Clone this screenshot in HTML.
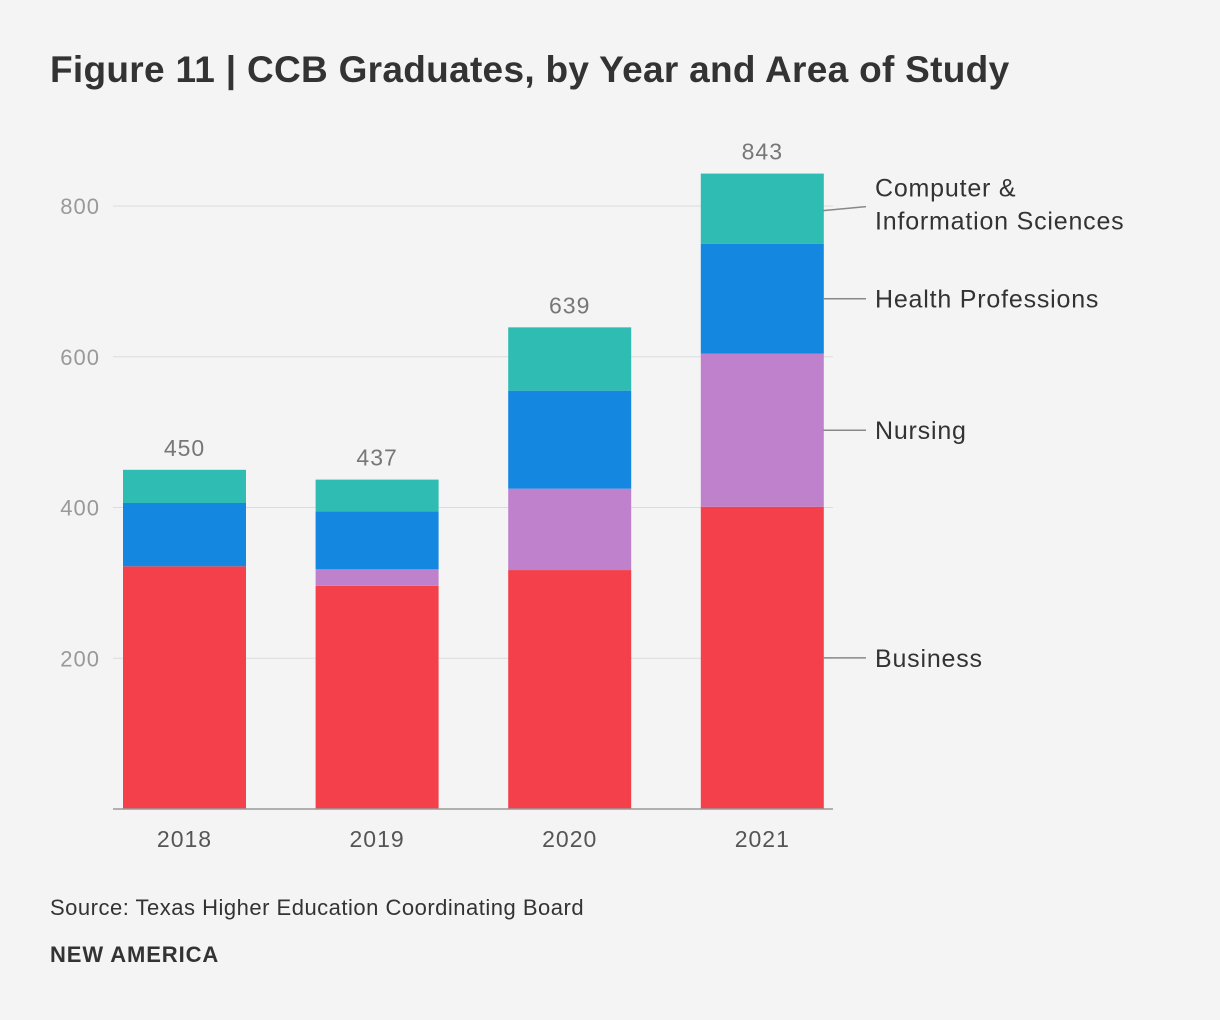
<!DOCTYPE html>
<html><head><meta charset="utf-8"><style>
html,body{margin:0;padding:0;background:#f4f4f4;}
body{width:1220px;height:1020px;position:relative;font-family:"Liberation Sans",sans-serif;overflow:hidden}
#title{position:absolute;left:50px;top:49px;font-size:37px;font-weight:bold;color:#333;letter-spacing:0.3px;margin:0}
#source{position:absolute;left:50px;top:895px;font-size:22px;color:#333;letter-spacing:0.5px}
#brand{position:absolute;left:50px;top:942px;font-size:22px;font-weight:bold;color:#333;letter-spacing:0.9px}
svg{position:absolute;left:0;top:0}
</style></head><body>
<h1 id="title">Figure 11 | CCB Graduates, by Year and Area of Study</h1>
<svg id="chart" width="1220" height="1020"></svg>
<div id="source">Source: Texas Higher Education Coordinating Board</div>
<div id="brand">NEW AMERICA</div>
<script>
const years = ["2018","2019","2020","2021"];
const business = [322,296,317,401];
const nursing = [0,22,108,203];
const health = [84,77,130,146];
const cis = [44,42,84,93];
const totals = [450,437,639,843];
const yTicks = [200,400,600,800];
const seriesNames = ["Business","Nursing","Health Professions","Computer & Information Sciences"];

const NS="http://www.w3.org/2000/svg";
const svg=document.getElementById('chart');
const y0=809, pxPer=(809-206)/800;
const y=v=>y0-v*pxPer;
const x=i=>123+i*192.6;
const bw=123;
const FF='Liberation Sans, sans-serif';
function el(t,a){const e=document.createElementNS(NS,t);for(const k in a)e.setAttribute(k,a[k]);svg.appendChild(e);return e;}
yTicks.forEach(t=>{
  const g=el('line',{x1:113,x2:833,y1:y(t),y2:y(t),stroke:'#dcdcdc','stroke-width':1});
  
  
  const tx=el('text',{x:100,y:y(t)+8,'text-anchor':'end','font-size':22,fill:'#999','font-family':FF,'letter-spacing':1});
  tx.textContent=t;
  
  
});
const series=[business,nursing,health,cis];
const colors=["#f3404a","#c081cc","#1487e0","#2fbcb2"];
const keys=["business","nursing","health","cis"];
years.forEach((yr,i)=>{
  let base=0;
  series.forEach((s,k)=>{
    const r=el('rect',{x:x(i),y:y(base+s[i]),width:bw,height:s[i]*pxPer,fill:colors[k]});
    
    
    base+=s[i];
  });
  const tl=el('text',{x:x(i)+bw/2,y:y(totals[i])-14,'text-anchor':'middle','font-size':23,fill:'#777','font-family':FF,'letter-spacing':1});
  tl.textContent=totals[i];
  
  
  const xl=el('text',{x:x(i)+bw/2,y:847,'text-anchor':'middle','font-size':23,fill:'#555','font-family':FF,'letter-spacing':1});
  xl.textContent=yr;
  
  
});
const ax=el('line',{x1:113,x2:833,y1:y0,y2:y0,stroke:'#999','stroke-width':1.5});


const li=3;
const mids=[];let b=0;
series.forEach((s,k)=>{mids.push(y(b+s[li]/2));b+=s[li];});
const lineEnd=[mids[0],mids[1],mids[2],mids[3]-2];
series.forEach((s,k)=>{
  const l=el('line',{x1:823,y1:k===3?mids[k]+2:mids[k],x2:866,y2:lineEnd[k],stroke:'#888','stroke-width':1.5});
  
  
  const t=el('text',{x:875,y:lineEnd[k]+9,'font-size':25,fill:'#333','font-family':FF,'letter-spacing':0.8});
  
  
  if(k===3){
    t.setAttribute('y',lineEnd[k]-10);
    const a=document.createElementNS(NS,'tspan');a.textContent="Computer &";a.setAttribute('x',875);t.appendChild(a);
    const c=document.createElementNS(NS,'tspan');c.textContent="Information Sciences";c.setAttribute('x',875);c.setAttribute('dy',33);t.appendChild(c);
  } else t.textContent=seriesNames[k];
});
</script>
</body></html>
